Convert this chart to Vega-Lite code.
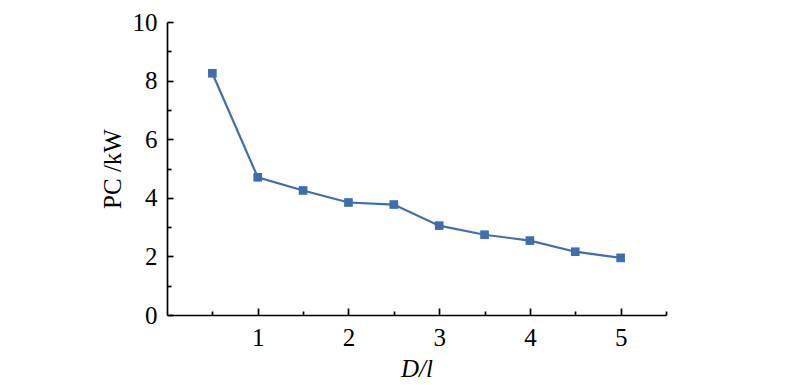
{
  "$schema": "https://vega.github.io/schema/vega-lite/v6.json",
  "autosize": {"type": "none"},
  "padding": {"left": 167, "top": 22, "right": 134, "bottom": 70},
  "width": 499,
  "height": 293,
  "background": "white",
  "config": {
    "view": {"stroke": null},
    "axis": {
      "domainColor": "black",
      "domainWidth": 1.7,
      "tickColor": "black",
      "tickWidth": 1.7,
      "grid": false,
      "labelFont": "Liberation Serif",
      "labelFontSize": 25,
      "labelColor": "black",
      "titleFont": "Liberation Serif",
      "titleFontSize": 25,
      "titleFontWeight": "normal",
      "titleColor": "black"
    }
  },
  "data": {
    "values": [
      {"D_l": 0.5, "Pc": 8.25},
      {"D_l": 1.0, "Pc": 4.70},
      {"D_l": 1.5, "Pc": 4.25},
      {"D_l": 2.0, "Pc": 3.84},
      {"D_l": 2.5, "Pc": 3.77},
      {"D_l": 3.0, "Pc": 3.05},
      {"D_l": 3.5, "Pc": 2.74},
      {"D_l": 4.0, "Pc": 2.54},
      {"D_l": 4.5, "Pc": 2.16},
      {"D_l": 5.0, "Pc": 1.95}
    ]
  },
  "layer": [
    {
      "mark": {"type": "line", "color": "#3d6fb0", "strokeWidth": 2.2},
      "encoding": {
        "x": {
          "field": "D_l", "type": "quantitative",
          "scale": {"domain": [0, 5.5], "nice": false, "zero": false},
          "axis": {
            "orient": "bottom",
            "values": [1, 2, 3, 4, 5],
            "tickSize": -7,
            "labelPadding": 17,
            "title": "D/l",
            "titleFontStyle": "italic",
            "titlePadding": 6
          }
        },
        "y": {
          "field": "Pc", "type": "quantitative",
          "scale": {"domain": [0, 10], "nice": false},
          "axis": {
            "orient": "left",
            "values": [0, 2, 4, 6, 8, 10],
            "tickSize": -6,
            "labelPadding": 16,
            "title": "PC /kW",
            "titlePadding": 7
          }
        }
      }
    },
    {
      "mark": {"type": "square", "color": "#3d6fb0", "size": 75, "opacity": 1},
      "encoding": {
        "x": {
          "field": "D_l", "type": "quantitative",
          "axis": {
            "orient": "bottom",
            "values": [0.5, 1.5, 2.5, 3.5, 4.5, 5.5],
            "tickSize": -4,
            "labels": false,
            "domain": false,
            "title": null
          }
        },
        "y": {
          "field": "Pc", "type": "quantitative",
          "axis": {
            "orient": "left",
            "values": [1, 3, 5, 7, 9],
            "tickSize": -4,
            "labels": false,
            "domain": false,
            "title": null
          }
        }
      }
    }
  ],
  "resolve": {"axis": {"x": "independent", "y": "independent"}}
}
